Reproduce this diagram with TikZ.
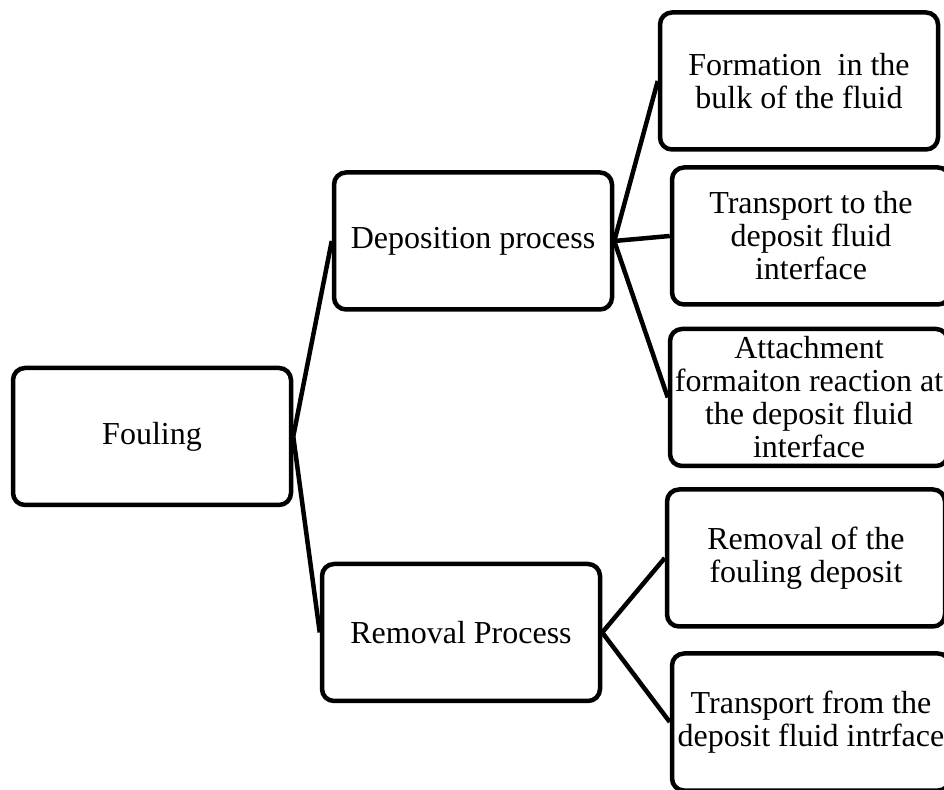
\documentclass[tikz,border=0pt]{standalone}
\usepackage{fontspec}
\setmainfont{Liberation Serif}
\begin{document}
\begin{tikzpicture}[x=1pt,y=1pt,
  box/.style={draw,line width=4.5pt,rounded corners=12pt,minimum width=278pt,minimum height=137pt,
    inner sep=2pt,align=center,font=\fontsize{32}{33}\selectfont},
  link/.style={line width=4.5pt}]
\useasboundingbox (0,0) rectangle (944,789);
\node[box] (fouling) at (152,352.5) {Fouling};
\node[box] (depo) at (473,548) {Deposition process};
\node[box] (remo) at (461,156.5) {Removal Process};
\foreach \n/\x/\y/\txt in {form/799/708/{Formation~ in the\\bulk of the fluid},
  tto/811/553/{Transport to the\\deposit fluid\\interface},
  attach/809/391.5/{Attachment\\formaiton reaction at\\the deposit fluid\\interface},
  rmdep/806/231/{Removal of the\\fouling deposit},
  tfrom/811/67/{Transport from the\\deposit fluid intrface}}
  \node[box] (\n) at (\x,\y) {\txt};
\draw[link] (fouling.east) -- (depo.west);
\draw[link] (fouling.east) -- (remo.west);
\foreach \c in {form,tto,attach}
  \draw[link] (depo.east) -- (\c.west);
\foreach \c in {rmdep,tfrom}
  \draw[link] (remo.east) -- (\c.west);
\end{tikzpicture}
\end{document}
